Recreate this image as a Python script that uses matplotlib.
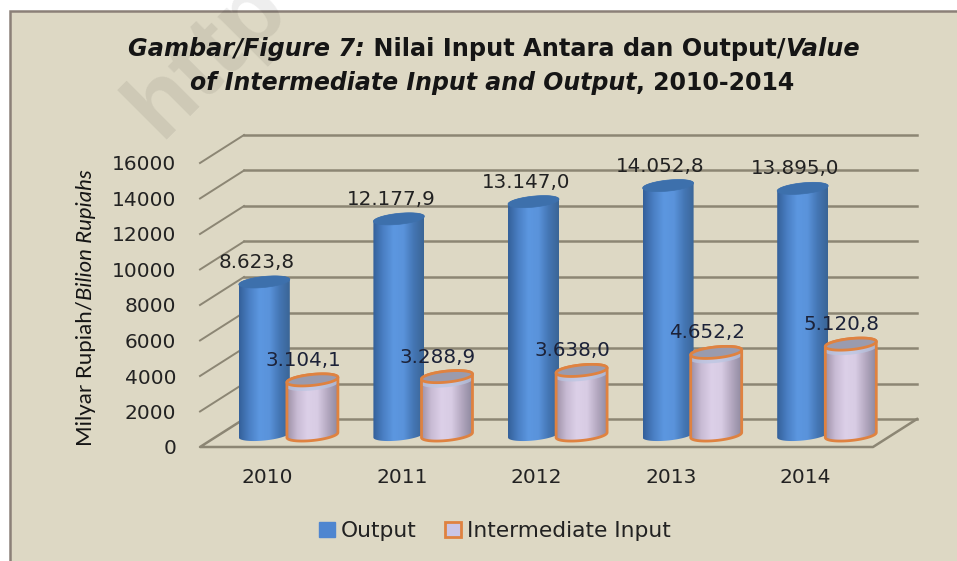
import numpy as np
import matplotlib
matplotlib.use("Agg")
import matplotlib.pyplot as plt
from matplotlib.colors import LinearSegmentedColormap
from matplotlib.patches import Patch, Polygon, Rectangle

years = ["2010", "2011", "2012", "2013", "2014"]
output_vals = [8623.8, 12177.9, 13147.0, 14052.8, 13895.0]
input_vals = [3104.1, 3288.9, 3638.0, 4652.2, 5120.8]
output_labels = ["8.623,8", "12.177,9", "13.147,0", "14.052,8", "13.895,0"]
input_labels = ["3.104,1", "3.288,9", "3.638,0", "4.652,2", "5.120,8"]
y_ticks = [0, 2000, 4000, 6000, 8000, 10000, 12000, 14000, 16000]

W, H = 957, 561
BG = "#DDD8C4"
GRID = "#8C8674"

# front plane of the 3d box in pixels
X0, X1, Y0, Y1 = 200, 873, 447, 163
PX_X = 5 / (X1 - X0)            # categories per pixel
PX_Y = 16000 / (Y0 - Y1)        # value units per pixel

blues = LinearSegmentedColormap.from_list(
    "blues", ["#34609A", "#4A7FC4", "#5C97E0", "#5A93DB", "#4476B4", "#3A6596"])
lilacs = LinearSegmentedColormap.from_list(
    "lilacs", ["#9E90A6", "#C8BBD4", "#DCD0E8", "#D8CCE4", "#B4A8C0", "#8F8AA0"])


def fx(px):
    return px / W


def fy(py):
    return 1 - py / H


def runs(fig, x, y, parts, rotation=0, **kw):
    # draw text pieces with different styles one after the other
    r = fig.canvas.get_renderer()
    for s, style, weight in parts:
        t = fig.text(fx(x), fy(y), s, style=style, weight=weight, rotation=rotation,
                     rotation_mode="anchor", ha="left", va="baseline", **kw)
        e = t.get_window_extent(r)
        if rotation == 90:
            y -= e.height
        else:
            x += e.width


def cylinder(ax, xc, value, cmap, top_color, edge=None, z=3):
    hw, hh, tilt = 25.5 * PX_X, 5.5 * PX_Y, 2.5 * PX_Y
    base = 12 * PX_Y
    top = base + value
    t1 = np.linspace(np.pi, 2 * np.pi, 40)
    t2 = np.linspace(0, np.pi, 40)
    lower = np.c_[xc + hw * np.cos(t1), base + hh * np.sin(t1) + tilt * np.cos(t1)]
    upper = np.c_[xc + hw * np.cos(t2), top + hh * np.sin(t2) + tilt * np.cos(t2)]
    t3 = np.linspace(0, 2 * np.pi, 80)
    cap = np.c_[xc + hw * np.cos(t3), top + hh * np.sin(t3) + tilt * np.cos(t3)]

    body = Polygon(np.r_[lower, upper], closed=True, facecolor="none",
                   edgecolor=edge or "none", lw=2 if edge else 0, zorder=z + 0.2, clip_on=False)
    ax.add_patch(body)
    grad = np.linspace(0, 1, 128)[None, :]
    im = ax.imshow(grad, cmap=cmap, aspect="auto", zorder=z,
                   extent=[xc - hw, xc + hw, base - 2 * hh, top + 2 * hh])
    im.set_clip_path(body)
    im.set_clip_box(fig.bbox)
    if edge:
        # lighter band just under the cap
        band = np.c_[cap[:, 0], cap[:, 1] - 5 * PX_Y]
        b = ax.add_patch(Polygon(band, closed=True, facecolor="#B9C6E2", edgecolor="none",
                                 alpha=0.7, zorder=z + 0.1))
        b.set_clip_path(body)
        b.set_clip_box(fig.bbox)
    ax.add_patch(Polygon(cap, closed=True, facecolor=top_color, edgecolor=edge or top_color,
                         lw=2 if edge else 0.5, zorder=z + 0.3, clip_on=False))
    return top


fig = plt.figure(figsize=(W / 100, H / 100), dpi=100, facecolor="white")
fig.add_artist(Rectangle((fx(10), fy(H + 4)), 1, fy(11) - fy(H + 4), transform=fig.transFigure,
                         facecolor=BG, edgecolor="#8B8078", lw=1.8, zorder=-5))

# watermark
fig.text(fx(160), fy(140), "http", fontsize=70, weight="bold", family="Liberation Sans",
         color="black", alpha=0.07, rotation=45, rotation_mode="anchor",
         ha="left", va="baseline", zorder=-4)

ax = fig.add_axes([fx(X0), fy(Y0), fx(X1) - fx(X0), fy(Y1) - fy(Y0)])
ax.patch.set_alpha(0)
for s in ax.spines.values():
    s.set_visible(False)

# 3d box
dx, dy = 44 * PX_X, 28 * PX_Y
for v in y_ticks:
    if v > 0:
        ax.plot([-0.5, -0.5 + dx], [v, v + dy], color=GRID, lw=1.4, zorder=1, clip_on=False)
    ax.plot([-0.5 + dx, 4.5 + dx], [v + dy, v + dy], color=GRID, lw=1.8, zorder=1, clip_on=False)
ax.plot([-0.5 + dx, -0.5, 4.5, 4.5 + dx], [dy, 0, 0, dy], color=GRID, lw=1.8, zorder=1, clip_on=False)

for i in range(len(years)):
    xo = i - 3 * PX_X
    top = cylinder(ax, xo, output_vals[i], blues, "#3D70AC", z=3)
    ax.annotate(output_labels[i], (xo, top), xytext=(-5.5, 14), textcoords="offset points",
                ha="center", va="center", fontsize=14.3, color="#222222", zorder=8, annotation_clip=False)
    xi = i + 0.335
    top = cylinder(ax, xi, input_vals[i], lilacs, "#9A9BAE", edge="#DF8240", z=4)
    ax.annotate(input_labels[i], (xi, top), xytext=(-6.5, 14), textcoords="offset points",
                ha="center", va="center", fontsize=14.3, color="#1C2238", zorder=8, annotation_clip=False)

ax.set_xlim(-0.5, 4.5)
ax.set_ylim(0, 16000)
ax.set_xticks(range(len(years)), years)
ax.set_yticks(y_ticks)
ax.tick_params(axis="x", length=0, pad=15, labelsize=14.5, labelcolor="#222222")
ax.tick_params(axis="y", length=0, pad=17, labelsize=14.5, labelcolor="#222222")

# title
runs(fig, 128, 56, [("Gambar/Figure 7:", "italic", "bold"),
                    (" Nilai Input Antara dan Output/", "normal", "bold"),
                    ("Value", "italic", "bold")], fontsize=17.3, color="#151515")
runs(fig, 190, 90, [("of Intermediate Input and Output", "italic", "bold"),
                    (", 2010-2014", "normal", "bold")], fontsize=17, color="#151515")

# y label
runs(fig, 92, 446, [("Milyar Rupiah/", "normal", "normal"),
                    ("Bilion Rupiahs", "italic", "normal")],
     rotation=90, fontsize=16, color="#151515", family="Lato")

handles = [Patch(facecolor="#4F86D0", edgecolor="#4F86D0", label="Output"),
           Patch(facecolor="#C9C5E6", edgecolor="#DF8240", lw=2, label="Intermediate Input")]
fig.legend(handles=handles, loc="center", bbox_to_anchor=(fx(495), fy(531)), ncols=2, frameon=False,
           fontsize=15.7, labelcolor="#222222", handlelength=0.72, handleheight=0.7,
           handletextpad=0.3, columnspacing=1.3)

fig.savefig("out.png", dpi=100)
